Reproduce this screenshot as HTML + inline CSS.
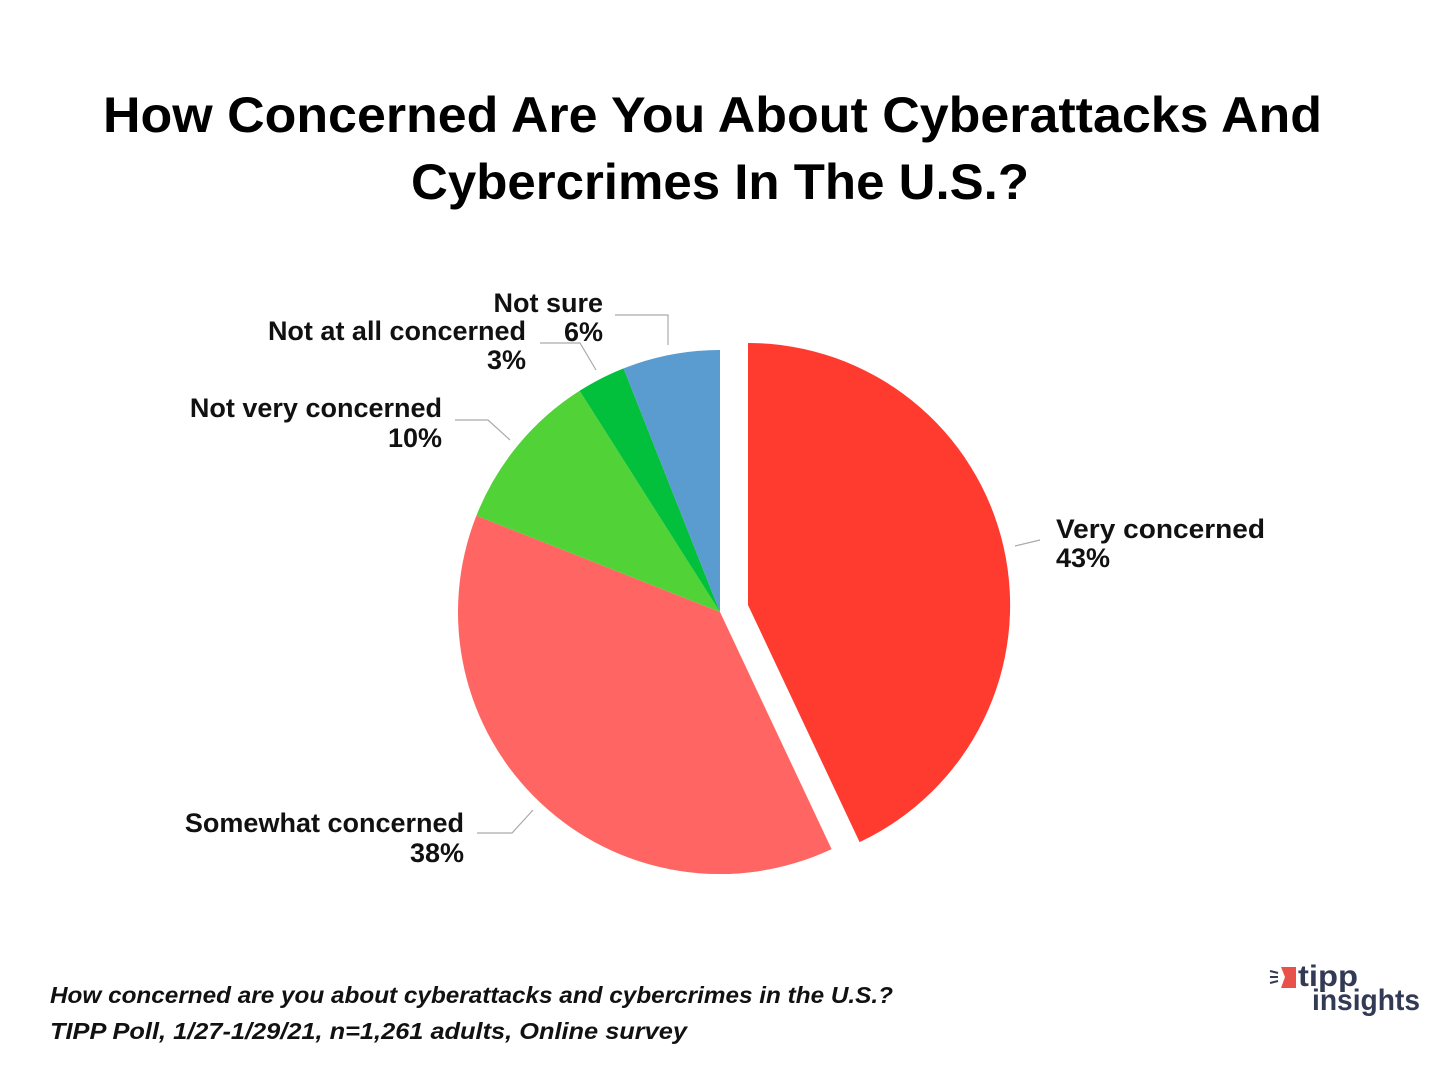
<!DOCTYPE html>
<html><head><meta charset="utf-8"><style>
body{margin:0;width:1440px;height:1080px;background:#fff;font-family:"Liberation Sans",sans-serif;overflow:hidden}
</style></head><body>
<svg width="1440" height="1080" xmlns="http://www.w3.org/2000/svg" font-family="Liberation Sans, sans-serif">
<text x="103" y="132" textLength="1219" lengthAdjust="spacingAndGlyphs" font-size="50" font-weight="bold" fill="#000">How Concerned Are You About Cyberattacks And</text>
<text x="411" y="199" textLength="618" lengthAdjust="spacingAndGlyphs" font-size="50" font-weight="bold" fill="#000">Cybercrimes In The U.S.?</text>
<path d="M748,605 L748,343 A262,262 0 0 1 859.6,842.1 Z" fill="#ff3b30"/>
<path d="M720,612 L831.6,849.1 A262,262 0 0 1 476.4,515.6 Z" fill="#ff6663"/>
<path d="M720,612 L476.4,515.6 A262,262 0 0 1 579.6,390.8 Z" fill="#51d236"/>
<path d="M720,612 L579.6,390.8 A262,262 0 0 1 623.6,368.4 Z" fill="#03c03c"/>
<path d="M720,612 L623.6,368.4 A262,262 0 0 1 720,350 Z" fill="#5a9bd0"/>
<g stroke="#aaa" stroke-width="1.2" fill="none">
<polyline points="1015,546 1040,540"/>
<polyline points="533,810 512,833 477,833"/>
<polyline points="510,440 488,420 455,420"/>
<polyline points="596,370 580,343 540,343"/>
<polyline points="668,345 668,315 615,315"/>
</g>
<g font-size="27" font-weight="bold" fill="#111">
<text x="1056" y="538" textLength="209" lengthAdjust="spacingAndGlyphs">Very concerned</text>
<text x="1056" y="567">43%</text>
<text x="464" y="832" text-anchor="end">Somewhat concerned</text>
<text x="464" y="862" text-anchor="end">38%</text>
<text x="442" y="417" text-anchor="end">Not very concerned</text>
<text x="442" y="447" text-anchor="end">10%</text>
<text x="526" y="340" text-anchor="end">Not at all concerned</text>
<text x="526" y="369" text-anchor="end">3%</text>
<text x="603" y="312" text-anchor="end">Not sure</text>
<text x="603" y="341" text-anchor="end">6%</text>
</g>
<g font-size="23" font-style="italic" font-weight="bold" fill="#111">
<text x="50" y="1003" textLength="843" lengthAdjust="spacingAndGlyphs">How concerned are you about cyberattacks and cybercrimes in the U.S.?</text>
<text x="50" y="1039" textLength="637" lengthAdjust="spacingAndGlyphs">TIPP Poll, 1/27-1/29/21, n=1,261 adults, Online survey</text>
</g>
<polygon points="1281,967 1296,967 1296,988 1281,988 1285,977" fill="#e8524a"/>
<g stroke="#333a55" stroke-width="2"><line x1="1270" y1="971" x2="1278" y2="973"/><line x1="1270" y1="977" x2="1278" y2="977"/><line x1="1270" y1="983" x2="1278" y2="981"/></g>
<text x="1298" y="986" textLength="60" lengthAdjust="spacingAndGlyphs" font-size="30" font-weight="bold" fill="#333a55">tipp</text>
<text x="1312" y="1010" textLength="108" lengthAdjust="spacingAndGlyphs" font-size="30" font-weight="bold" fill="#333a55">insights</text>
</svg>
</body></html>
